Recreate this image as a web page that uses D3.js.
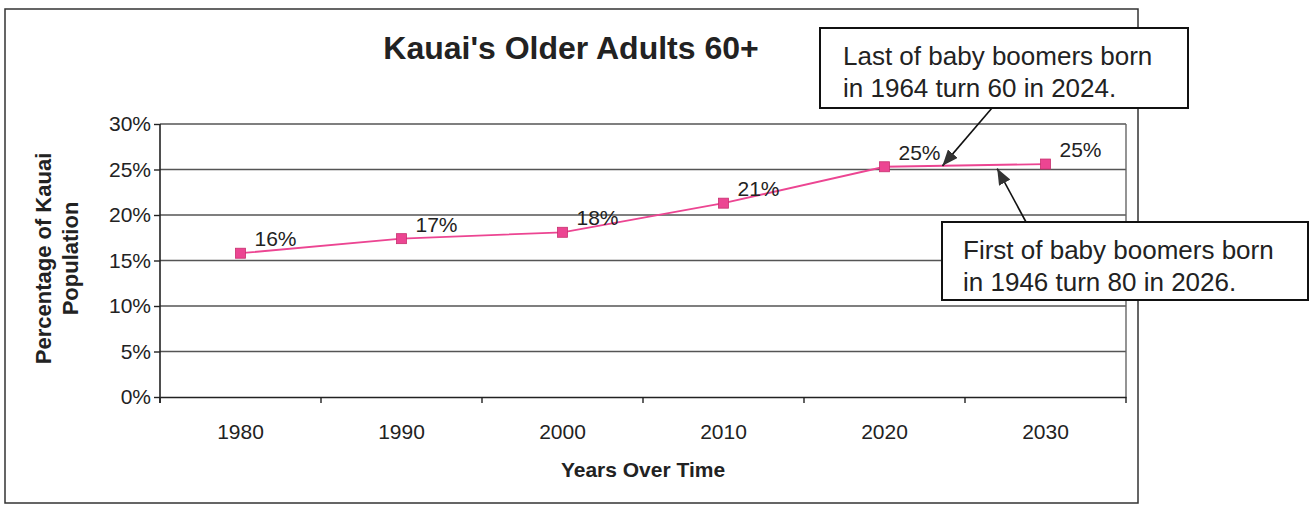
<!DOCTYPE html>
<html>
<head>
<meta charset="utf-8">
<script src="https://cdn.jsdelivr.net/npm/d3@7"></script>
<style>
  body { margin: 0; background: #fff; }
  text { font-family: Arial, "Liberation Sans", sans-serif; fill: #222; }
</style>
</head>
<body>
<div id="chart"></div>
<script>
const years = ["1980", "1990", "2000", "2010", "2020", "2030"]
const shares = [15.8, 17.4, 18.1, 21.3, 25.3, 25.6]
const shareLabels = ["16%", "17%", "18%", "21%", "25%", "25%"]
const yTicks = [0, 5, 10, 15, 20, 25, 30]

// callout notes: text lines and the (year, value) the arrow points at
const notes = [
  { lines: ["Last of baby boomers born", "in 1964 turn 60 in 2024."], year: 2023.6, value: 25.4 },
  { lines: ["First of baby boomers born", "in 1946 turn 80 in 2026."], year: 2027.0, value: 25.1 }
]

const W = 1311, H = 505
const PLOT = { LEFT: 160, RIGHT: 1126, TOP: 124, BOTTOM: 397 }
const PINK = "#ec4592"
const FONT = "Arial, 'Liberation Sans', sans-serif"

const svg = d3.select("#chart").append("svg")
  .attr("width", W)
  .attr("height", H)

svg.append("defs").append("marker")
    .attr("id", "head")
    .attr("viewBox", "0 0 16 13")
    .attr("refX", 16).attr("refY", 6.5)
    .attr("markerWidth", 16).attr("markerHeight", 13)
    .attr("markerUnits", "userSpaceOnUse")
    .attr("orient", "auto")
  .append("path")
    .attr("d", "M0,0 L16,6.5 L0,13 Z")
    .attr("fill", "#333")

// outer chart frame
svg.append("rect")
  .attr("x", 5).attr("y", 9)
  .attr("width", 1133).attr("height", 494)
  .attr("fill", "none")
  .attr("stroke", "#333")
  .attr("stroke-width", 1.5)

const x = d3.scaleBand()
  .domain(years)
  .range([PLOT.LEFT, PLOT.RIGHT])

const y = d3.scaleLinear()
  .domain([0, 30])
  .range([PLOT.BOTTOM, PLOT.TOP])

// fractional year -> pixel, on the category axis
const xYear = yr => x(years[0]) + x.bandwidth() / 2 + (yr - +years[0]) / 10 * x.step()

// gridlines + plot border
svg.append("g")
  .selectAll("line")
  .data(yTicks.slice(1))
  .join("line")
    .attr("x1", PLOT.LEFT).attr("x2", PLOT.RIGHT)
    .attr("y1", d => y(d)).attr("y2", d => y(d))
    .attr("stroke", "#555")
    .attr("stroke-width", 1.4)

svg.append("line")
  .attr("x1", PLOT.RIGHT).attr("x2", PLOT.RIGHT)
  .attr("y1", PLOT.TOP).attr("y2", PLOT.BOTTOM)
  .attr("stroke", "#666")
  .attr("stroke-width", 1.4)

// y axis
const yAxis = svg.append("g")
  .attr("transform", `translate(${PLOT.LEFT},0)`)
  .call(d3.axisLeft(y).tickValues(yTicks).tickFormat(d => d + "%").tickSize(6).tickPadding(3))
yAxis.select(".domain").attr("stroke", "#222").attr("stroke-width", 1.6)
  .attr("d", `M0,${PLOT.TOP}V${PLOT.BOTTOM + 6}`)
yAxis.selectAll(".tick line").attr("stroke", "#222").attr("stroke-width", 1.4)
yAxis.selectAll("text").attr("font-size", 21).attr("fill", "#222")
  .style("font-family", FONT)

// x axis
const xAxis = svg.append("g")
  .attr("transform", `translate(0,${PLOT.BOTTOM})`)
  .call(d3.axisBottom(x).tickSize(0).tickPadding(27))
xAxis.select(".domain").attr("stroke", "#222").attr("stroke-width", 1.6)
xAxis.selectAll("text").attr("font-size", 21).attr("fill", "#222")
  .style("font-family", FONT)

// category boundary ticks
svg.append("g")
  .selectAll("line")
  .data(years.map(d => x(d)).concat([x.range()[1]]))
  .join("line")
    .attr("x1", d => d).attr("x2", d => d)
    .attr("y1", PLOT.BOTTOM).attr("y2", PLOT.BOTTOM + 6)
    .attr("stroke", "#222")
    .attr("stroke-width", 1.4)

// series line
const line = d3.line()
  .x((d, i) => x(years[i]) + x.bandwidth() / 2)
  .y(d => y(d))

svg.append("path")
  .datum(shares)
  .attr("d", line)
  .attr("fill", "none")
  .attr("stroke", PINK)
  .attr("stroke-width", 1.8)

svg.append("g")
  .selectAll("rect")
  .data(shares)
  .join("rect")
    .attr("x", (d, i) => x(years[i]) + x.bandwidth() / 2 - 5)
    .attr("y", d => y(d) - 5)
    .attr("width", 10).attr("height", 10)
    .attr("fill", PINK)
    .attr("stroke", "#c7306f")
    .attr("stroke-width", 0.8)

svg.append("g")
  .selectAll("text")
  .data(shares)
  .join("text")
    .attr("x", (d, i) => x(years[i]) + x.bandwidth() / 2 + 14)
    .attr("y", d => y(d) - 7)
    .attr("font-size", 21)
    .text((d, i) => shareLabels[i])

// titles
svg.append("text")
  .attr("x", 571).attr("y", 59)
  .attr("text-anchor", "middle")
  .attr("font-size", 32)
  .attr("font-weight", "bold")
  .text("Kauai's Older Adults 60+")

svg.append("text")
  .attr("x", (PLOT.LEFT + PLOT.RIGHT) / 2).attr("y", 477)
  .attr("text-anchor", "middle")
  .attr("font-size", 21)
  .attr("font-weight", "bold")
  .text("Years Over Time")

const yMid = (PLOT.TOP + PLOT.BOTTOM) / 2 - 2
;["Percentage of Kauai", "Population"].forEach((t, i) => {
  svg.append("text")
    .attr("transform", `translate(${51 + i * 27},${yMid}) rotate(-90)`)
    .attr("text-anchor", "middle")
    .attr("font-size", 22)
    .attr("font-weight", "bold")
    .text(t)
})

// callouts
const boxes = [
  { x: 820, y: 28, w: 368, h: 80, tx: 843, from: [992, 108] },
  { x: 942, y: 222, w: 366, h: 78, tx: 963, from: [1026, 222] }
]

notes.forEach((n, i) => {
  const b = boxes[i]
  svg.append("line")
    .attr("x1", b.from[0]).attr("y1", b.from[1])
    .attr("x2", xYear(n.year)).attr("y2", y(n.value))
    .attr("stroke", "#111")
    .attr("stroke-width", 1.6)
    .attr("marker-end", "url(#head)")
  svg.append("rect")
    .attr("x", b.x).attr("y", b.y)
    .attr("width", b.w).attr("height", b.h)
    .attr("fill", "#fff")
    .attr("stroke", "#111")
    .attr("stroke-width", 2)
  n.lines.forEach((t, j) => {
    svg.append("text")
      .attr("x", b.tx).attr("y", b.y + 37 + j * 32)
      .attr("font-size", 26)
      .text(t)
  })
})
</script>
</body>
</html>
